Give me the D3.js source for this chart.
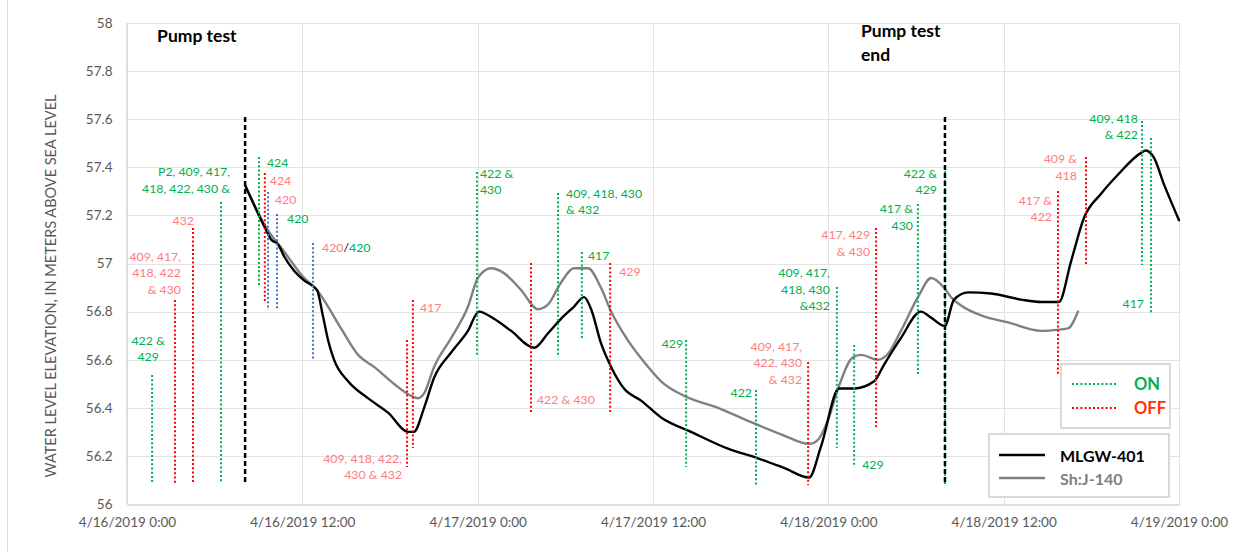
<!DOCTYPE html>
<html>
<head>
<meta charset="utf-8">
<script src="https://cdn.jsdelivr.net/npm/d3@7"></script>
<style>
  body { margin: 0; background: #fff; }
  svg { display: block; font-family: Lato, "Open Sans", "Liberation Sans", sans-serif; }
</style>
</head>
<body>
<svg id="chart" width="1243" height="552"></svg>
<script>
// ---- axis ticks ----
const xTicks = ["2019-04-16 00:00", "2019-04-16 12:00", "2019-04-17 00:00", "2019-04-17 12:00",
                "2019-04-18 00:00", "2019-04-18 12:00", "2019-04-19 00:00"];
const yTicks = [56, 56.2, 56.4, 56.6, 56.8, 57, 57.2, 57.4, 57.6, 57.8, 58];

// ---- water levels (m above sea level) ----
const mlgw401 = [
  ["2019-04-16 08:05", 57.325], ["2019-04-16 09:31", 57.14], ["2019-04-16 09:52", 57.10],
  ["2019-04-16 10:20", 57.08], ["2019-04-16 10:45", 57.03], ["2019-04-16 11:26", 56.97],
  ["2019-04-16 12:07", 56.93], ["2019-04-16 13:00", 56.89], ["2019-04-16 13:25", 56.78],
  ["2019-04-16 13:46", 56.68], ["2019-04-16 14:10", 56.60], ["2019-04-16 15:08", 56.51],
  ["2019-04-16 16:29", 56.44], ["2019-04-16 17:52", 56.38], ["2019-04-16 19:14", 56.30],
  ["2019-04-16 19:38", 56.30], ["2019-04-16 20:20", 56.40], ["2019-04-16 21:01", 56.525],
  ["2019-04-16 22:11", 56.63], ["2019-04-16 23:20", 56.72], ["2019-04-17 00:05", 56.80],
  ["2019-04-17 01:07", 56.77], ["2019-04-17 02:17", 56.72], ["2019-04-17 03:52", 56.65],
  ["2019-04-17 04:49", 56.71], ["2019-04-17 05:42", 56.77], ["2019-04-17 06:35", 56.82],
  ["2019-04-17 07:17", 56.86], ["2019-04-17 07:46", 56.81], ["2019-04-17 08:26", 56.67],
  ["2019-04-17 09:08", 56.57], ["2019-04-17 10:01", 56.48], ["2019-04-17 11:11", 56.43],
  ["2019-04-17 12:33", 56.36], ["2019-04-17 14:36", 56.30], ["2019-04-17 17:08", 56.23],
  ["2019-04-17 19:11", 56.19], ["2019-04-17 20:58", 56.15], ["2019-04-17 22:41", 56.11],
  ["2019-04-17 23:30", 56.24], ["2019-04-18 00:44", 56.48], ["2019-04-18 01:46", 56.48],
  ["2019-04-18 03:08", 56.51], ["2019-04-18 03:49", 56.58], ["2019-04-18 04:58", 56.69],
  ["2019-04-18 06:20", 56.80], ["2019-04-18 07:02", 56.775], ["2019-04-18 07:58", 56.74],
  ["2019-04-18 08:36", 56.85], ["2019-04-18 09:34", 56.88], ["2019-04-18 11:08", 56.875],
  ["2019-04-18 13:11", 56.85], ["2019-04-18 14:34", 56.84], ["2019-04-18 15:47", 56.84],
  ["2019-04-18 16:37", 57.01], ["2019-04-18 17:30", 57.19], ["2019-04-18 18:40", 57.29],
  ["2019-04-18 19:50", 57.37], ["2019-04-18 21:24", 57.46], ["2019-04-18 21:44", 57.47],
  ["2019-04-18 22:17", 57.44], ["2019-04-18 22:58", 57.33], ["2019-04-19 00:00", 57.18]
];

const shJ140 = [
  ["2019-04-16 08:05", 57.325], ["2019-04-16 09:31", 57.15], ["2019-04-16 10:45", 57.05],
  ["2019-04-16 12:07", 56.94], ["2019-04-16 13:00", 56.89], ["2019-04-16 13:46", 56.82],
  ["2019-04-16 14:39", 56.73], ["2019-04-16 15:49", 56.62], ["2019-04-16 16:55", 56.57],
  ["2019-04-16 18:16", 56.50], ["2019-04-16 19:26", 56.45], ["2019-04-16 19:55", 56.44],
  ["2019-04-16 20:20", 56.46], ["2019-04-16 21:01", 56.57], ["2019-04-16 22:11", 56.69],
  ["2019-04-16 23:20", 56.82], ["2019-04-17 00:01", 56.94], ["2019-04-17 00:55", 56.98],
  ["2019-04-17 01:48", 56.96], ["2019-04-17 02:58", 56.89], ["2019-04-17 04:08", 56.81],
  ["2019-04-17 04:49", 56.83], ["2019-04-17 05:42", 56.92], ["2019-04-17 06:35", 56.98],
  ["2019-04-17 07:33", 56.98], ["2019-04-17 08:26", 56.90], ["2019-04-17 09:08", 56.80],
  ["2019-04-17 10:17", 56.68], ["2019-04-17 11:40", 56.57], ["2019-04-17 12:33", 56.51],
  ["2019-04-17 14:07", 56.45], ["2019-04-17 16:27", 56.40], ["2019-04-17 18:43", 56.34],
  ["2019-04-17 20:46", 56.29], ["2019-04-17 22:41", 56.25], ["2019-04-17 23:10", 56.26],
  ["2019-04-17 23:59", 56.35], ["2019-04-18 00:40", 56.48], ["2019-04-18 01:41", 56.61],
  ["2019-04-18 02:14", 56.62], ["2019-04-18 03:24", 56.60], ["2019-04-18 04:05", 56.625],
  ["2019-04-18 04:58", 56.72], ["2019-04-18 06:08", 56.86], ["2019-04-18 07:02", 56.94],
  ["2019-04-18 07:55", 56.90], ["2019-04-18 08:24", 56.86], ["2019-04-18 09:05", 56.825],
  ["2019-04-18 10:39", 56.78], ["2019-04-18 12:18", 56.755], ["2019-04-18 14:34", 56.72],
  ["2019-04-18 15:47", 56.725], ["2019-04-18 16:24", 56.73], ["2019-04-18 17:05", 56.80]
];

// ---- pump test start / end ----
const pumpTest = [
  ["2019-04-16 08:05", 57.609, 56.083, ["Pump test"]],
  ["2019-04-18 07:59", 57.609, 56.083, ["Pump test", "end"]]
];

// ---- well switching events: time, state, top, bottom (m) ----
const wellEvents = [
  ["2019-04-16 01:43", "on",  56.536, 56.087],
  ["2019-04-16 06:26", "on",  57.256, 56.087],
  ["2019-04-16 03:17", "off", 56.848, 56.087],
  ["2019-04-16 04:31", "off", 57.148, 56.087],
  ["2019-04-16 09:02", "on",  57.443, 56.911],
  ["2019-04-16 09:26", "off", 57.376, 56.836],
  ["2019-04-16 09:39", "swap", 57.297, 56.807],
  ["2019-04-16 10:16", "swap", 57.206, 56.807],
  ["2019-04-16 12:44", "swap", 57.085, 56.599],
  ["2019-04-16 19:10", "off", 56.682, 56.154],
  ["2019-04-16 19:34", "off", 56.848, 56.233],
  ["2019-04-16 23:57", "on",  57.380, 56.611],
  ["2019-04-17 03:39", "off", 57.002, 56.383],
  ["2019-04-17 05:30", "on",  57.293, 56.611],
  ["2019-04-17 07:08", "on",  57.048, 56.690],
  ["2019-04-17 09:04", "off", 57.002, 56.383],
  ["2019-04-17 14:16", "on",  56.682, 56.154],
  ["2019-04-17 19:03", "on",  56.474, 56.079],
  ["2019-04-17 22:37", "off", 56.590, 56.079],
  ["2019-04-18 00:35", "on",  56.902, 56.233],
  ["2019-04-18 01:46", "on",  56.661, 56.154],
  ["2019-04-18 03:16", "off", 57.148, 56.320],
  ["2019-04-18 06:08", "on",  57.247, 56.536],
  ["2019-04-18 07:59", "on",  57.401, 56.083],
  ["2019-04-18 15:43", "off", 57.301, 56.536],
  ["2019-04-18 17:38", "off", 57.443, 56.994],
  ["2019-04-18 21:28", "on",  57.593, 56.994],
  ["2019-04-18 22:05", "on",  57.522, 56.794]
];

// ---- well numbers beside each event line: [event index, text colour, lines] ----
const wellLabels = [
  [0, "on",  ["422 &", "429"]],
  [1, "on",  ["P2, 409, 417,", "418, 422, 430 &"]],
  [2, "off", ["409, 417,", "418, 422", "& 430"]],
  [3, "off", ["432"]],
  [4, "on",  ["424"]],
  [5, "off", ["424"]],
  [6, "off", ["420"]],
  [7, "on",  ["420"]],
  [8, "mix", ["420/420"]],
  [9, "off", ["409, 418, 422,", "430 & 432"]],
  [10, "off", ["417"]],
  [11, "on", ["422 &", "430"]],
  [12, "off", ["422 & 430"]],
  [13, "on", ["409, 418, 430", "& 432"]],
  [14, "on", ["417"]],
  [15, "off", ["429"]],
  [16, "on", ["429"]],
  [17, "on", ["422"]],
  [18, "off", ["409, 417,", "422, 430", "& 432"]],
  [19, "on", ["409, 417,", "418, 430", "&432"]],
  [20, "on", ["429"]],
  [21, "off", ["417, 429", "& 430"]],
  [22, "on", ["417 &", "430"]],
  [23, "on", ["422 &", "429"]],
  [24, "off", ["417 &", "422"]],
  [25, "off", ["409 &", "418"]],
  [26, "on", ["409, 418", "& 422"]],
  [27, "on", ["417"]]
];

// label placement beside its line: [dx px, text-anchor, level (m) of first line]
const labelPlacement = [
  [-4, "middle", 56.674], [9, "end", 57.376], [6, "end", 57.023], [1, "end", 57.173],
  [8, "start", 57.414], [5, "start", 57.339], [7, "start", 57.260], [10, "start", 57.181],
  [9, "start", 57.060], [-5, "end", 56.183], [7, "start", 56.811], [3, "start", 57.369],
  [6, "start", 56.428], [8, "start", 57.285], [6, "start", 57.027], [9, "start", 56.960],
  [-3, "end", 56.661], [-4, "end", 56.457], [-6, "end", 56.649], [-7, "end", 56.956],
  [8, "start", 56.158], [-6, "end", 57.114], [-5, "end", 57.222], [-8, "end", 57.368],
  [-6, "end", 57.256], [-9, "end", 57.430], [-4, "end", 57.597], [-7, "end", 56.827]
];

const seriesNames = ["MLGW-401", "Sh:J-140"];
const stateNames = ["ON", "OFF"];

// ---- styling ----
const lineColor = { on: "#00B050", off: "#FF0000", swap: "#4472C4" };
const textColor = { on: "#00B050", off: "#FF7C80" };
const seriesColor = ["#000000", "#808080"];

const parse = d3.timeParse("%Y-%m-%d %H:%M");
const W = 1243, H = 552;
const plot = { left: 127, right: 1179, top: 23, bottom: 504 };

const x = d3.scaleTime()
  .domain([parse(xTicks[0]), parse(xTicks[xTicks.length - 1])])
  .range([plot.left, plot.right]);
const y = d3.scaleLinear().domain([yTicks[0], yTicks[yTicks.length - 1]]).range([plot.bottom, plot.top]);

const svg = d3.select("#chart");
svg.append("rect").attr("width", W).attr("height", H).attr("fill", "#fff");
// chart frame edge
svg.append("line").attr("x1", 7.5).attr("x2", 7.5).attr("y1", 0).attr("y2", H)
  .attr("stroke", "#d9d9d9").attr("stroke-width", 1);

// gridlines
const grid = svg.append("g").attr("stroke", "#e3e3e3").attr("stroke-width", 1);
grid.selectAll(".gy").data(yTicks.slice(1)).join("line")
  .attr("x1", plot.left).attr("x2", plot.right)
  .attr("y1", d => Math.round(y(d)) + 0.5).attr("y2", d => Math.round(y(d)) + 0.5);
grid.selectAll(".gx").data(xTicks.slice(1)).join("line")
  .attr("x1", d => Math.round(x(parse(d))) + 0.5).attr("x2", d => Math.round(x(parse(d))) + 0.5)
  .attr("y1", plot.top).attr("y2", plot.bottom);

// axes
const fmt = d3.timeFormat("%-m/%-d/%Y %-H:%M");
const xAxis = svg.append("g").attr("transform", `translate(0,${plot.bottom + 0.5})`)
  .call(d3.axisBottom(x).tickValues(xTicks.map(parse)).tickFormat(fmt).tickSize(0).tickPadding(13));
const yAxis = svg.append("g").attr("transform", `translate(${plot.left - 0.5},0)`)
  .call(d3.axisLeft(y).tickValues(yTicks).tickFormat(d3.format("~g")).tickSize(0).tickPadding(14));
[xAxis, yAxis].forEach(a => {
  a.select(".domain").attr("stroke", "#bfbfbf").attr("stroke-width", 1);
  a.selectAll("text").attr("fill", "#595959").attr("font-size", 13.5)
    .attr("font-family", 'Lato, "Open Sans", sans-serif');
});

svg.append("text")
  .attr("transform", "translate(52,286) rotate(-90)")
  .attr("text-anchor", "middle").attr("dominant-baseline", "middle")
  .attr("fill", "#595959").attr("font-size", 14.5)
  .text("WATER LEVEL ELEVATION, IN METERS ABOVE SEA LEVEL");

// water level series
const line = d3.line().curve(d3.curveMonotoneX).x(d => x(parse(d[0]))).y(d => y(d[1]));
[shJ140, mlgw401].forEach((s, i) => {
  svg.append("path").datum(s).attr("d", line).attr("fill", "none")
    .attr("stroke", seriesColor[1 - i]).attr("stroke-width", 2.4)
    .attr("stroke-linejoin", "round").attr("stroke-linecap", "round");
});

// event lines
svg.append("g").selectAll("line").data(wellEvents).join("line")
  .attr("x1", d => x(parse(d[0]))).attr("x2", d => x(parse(d[0])))
  .attr("y1", d => y(d[2])).attr("y2", d => y(d[3]))
  .attr("stroke", d => lineColor[d[1]]).attr("stroke-width", 2)
  .attr("stroke-dasharray", "2,2.2");

// event labels
const lineGap = 16.5;
const labels = svg.append("g").attr("font-size", 12.3);
wellLabels.forEach(([ev, kind, lines], i) => {
  const [dx, anchor, lvl] = labelPlacement[i];
  const x0 = x(parse(wellEvents[ev][0])) + dx;
  const t = labels.append("text").attr("text-anchor", anchor).attr("dominant-baseline", "middle");
  lines.forEach((ln, j) => {
    if (kind === "mix") {
      const parts = ln.split("/");
      t.append("tspan").attr("x", x0).attr("y", y(lvl) + j * lineGap).attr("fill", textColor.off).text(parts[0]);
      t.append("tspan").attr("fill", "#000").text("/");
      t.append("tspan").attr("fill", textColor.on).text(parts[1]);
    } else {
      t.append("tspan").attr("x", x0).attr("y", y(lvl) + j * lineGap).attr("fill", textColor[kind]).text(ln);
    }
  });
});

// pump test lines and captions
const pumpOffsets = [-88, -84];
pumpTest.forEach((p, i) => {
  const px = x(parse(p[0]));
  svg.append("line").attr("x1", px).attr("x2", px).attr("y1", y(p[1])).attr("y2", y(p[2]))
    .attr("stroke", "#000").attr("stroke-width", 2.5).attr("stroke-dasharray", "5,3");
  const t = svg.append("text").attr("font-size", 17.5).attr("font-weight", "bold").attr("fill", "#000")
    .attr("dominant-baseline", "middle");
  p[3].forEach((ln, j) => {
    t.append("tspan").attr("x", px + pumpOffsets[i]).attr("y", (i === 0 ? 38 : 33) + j * 24).text(ln);
  });
});

// legend: ON / OFF
const lg1 = svg.append("g");
lg1.append("rect").attr("x", 1061).attr("y", 364).attr("width", 109).attr("height", 64)
  .attr("fill", "#fff").attr("stroke", "#d9d9d9").attr("stroke-width", 2);
["on", "off"].forEach((k, i) => {
  const ly = 384 + i * 24;
  lg1.append("line").attr("x1", 1072).attr("x2", 1118).attr("y1", ly).attr("y2", ly)
    .attr("stroke", lineColor[k]).attr("stroke-width", 2).attr("stroke-dasharray", "2,2.2");
  lg1.append("text").attr("x", 1134).attr("y", ly + 2).attr("dominant-baseline", "middle")
    .attr("font-size", 16.5).attr("font-weight", "bold")
    .attr("fill", k === "on" ? "#00B050" : "#FF3300").text(stateNames[i]);
});

// legend: series
const lg2 = svg.append("g");
lg2.append("rect").attr("x", 989).attr("y", 434).attr("width", 180).attr("height", 63)
  .attr("fill", "#fff").attr("stroke", "#d9d9d9").attr("stroke-width", 2);
seriesNames.forEach((n, i) => {
  const ly = 455 + i * 23;
  lg2.append("line").attr("x1", 999).attr("x2", 1045).attr("y1", ly).attr("y2", ly)
    .attr("stroke", seriesColor[i]).attr("stroke-width", 2.5);
  lg2.append("text").attr("x", 1060).attr("y", ly + 3).attr("dominant-baseline", "middle")
    .attr("font-size", 16).attr("font-weight", "bold").attr("fill", seriesColor[i]).text(n);
});
</script>
</body>
</html>
